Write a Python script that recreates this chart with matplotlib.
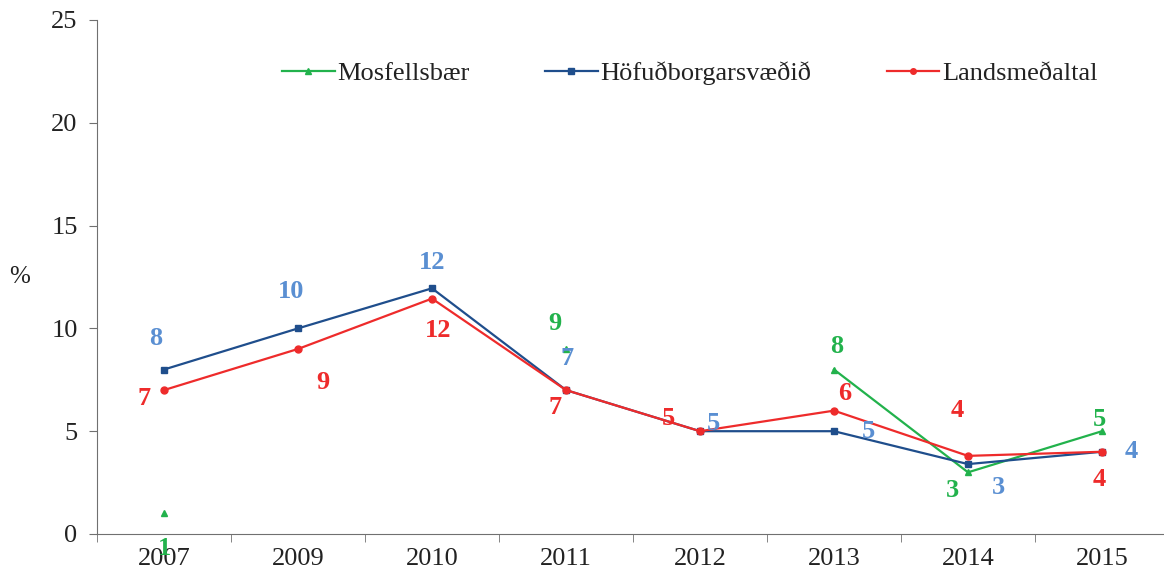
import numpy as np
import matplotlib.pyplot as plt

plt.rcParams['font.family'] = ['Liberation Serif', 'DejaVu Serif']

# data
years = ['2007', '2009', '2010', '2011', '2012', '2013', '2014', '2015']
mosfellsbaer = [1, np.nan, np.nan, 9, np.nan, 8, 3.0, 5]
hofudborg = [8, 10, 11.95, 7, 5, 5, 3.4, 4]
landsmedaltal = [7, 9, 11.45, 7, 5, 6, 3.8, 4]

mos_labels = ['1', '', '', '9', '', '8', '3', '5']
hof_labels = ['8', '10', '12', '7', '5', '5', '3', '4']
lands_labels = ['7', '9', '12', '7', '5', '6', '4', '4']

# label offsets in pixels (dx, dy), y up
mos_off = [(0, -35), None, None, (-11, 25), None, (3, 23), (-16, -18), (-3, 12)]
hof_off = [(-8, 31), (-7, 37), (0, 26), (1, 32), (13, 8), (34, 0), (30, -23), (29, 0)]
lands_off = [(-20, -8), (25, -34), (6, -32), (-11, -17), (-32, 13), (11, 17), (-11, 45), (-3, -28)]

green = '#22B24C'
navy = '#1F4E8C'
red = '#EE2B2B'
lblue = '#5A8FD2'

fig = plt.figure(figsize=(11.64, 5.75), dpi=100)
ax = fig.add_axes([97 / 1164, 1 - 534 / 575, 1072 / 1164, 514 / 575])

x = np.arange(len(years))
ax.plot(x, mosfellsbaer, color=green, marker='^', markersize=5, linewidth=1.6, label='Mosfellsbær')
ax.plot(x, hofudborg, color=navy, marker='s', markersize=5, linewidth=1.6, label='Höfuðborgarsvæðið')
ax.plot(x, landsmedaltal, color=red, marker='o', markersize=5, linewidth=1.6, label='Landsmeðaltal')

def put_labels(vals, labels, offs, color):
    for i, (v, t, o) in enumerate(zip(vals, labels, offs)):
        if o is None or not t:
            continue
        ax.annotate(t, (i, v), xytext=(o[0] * 0.72, o[1] * 0.72), textcoords='offset points',
                    ha='center', va='center', color=color, fontsize=19, fontweight='bold')

put_labels(hofudborg, hof_labels, hof_off, lblue)
put_labels(landsmedaltal, lands_labels, lands_off, red)
put_labels(mosfellsbaer, mos_labels, mos_off, green)

ax.set_xlim(-0.5, len(years) - 0.5)
ax.set_ylim(0, 25)
ax.set_yticks(range(0, 26, 5))
ax.set_xticks(x)
ax.set_xticklabels(years)
ax.set_xticks(np.arange(-0.5, len(years), 1), minor=True)
ax.tick_params(axis='x', which='major', length=0, labelsize=19, pad=10, labelcolor='#222222')
ax.tick_params(axis='x', which='minor', length=6, direction='out', color='#707070')
ax.tick_params(axis='y', length=6, direction='out', color='#707070', labelsize=19, pad=8,
               labelcolor='#222222')

for s in ['top', 'right']:
    ax.spines[s].set_visible(False)
for s in ['left', 'bottom']:
    ax.spines[s].set_color('#707070')

fig.text(20 / 1164, 1 - 277 / 575, '%', fontsize=18, ha='center', va='center', color='#222222')

ax.legend(loc='center', bbox_to_anchor=(0.553, 0.897), ncol=3, frameon=False,
          fontsize=19, handlelength=2.0, handletextpad=0.1, columnspacing=2.85,
          markerscale=0.8, labelcolor='#222222')

fig.savefig('out.png', dpi=100)
